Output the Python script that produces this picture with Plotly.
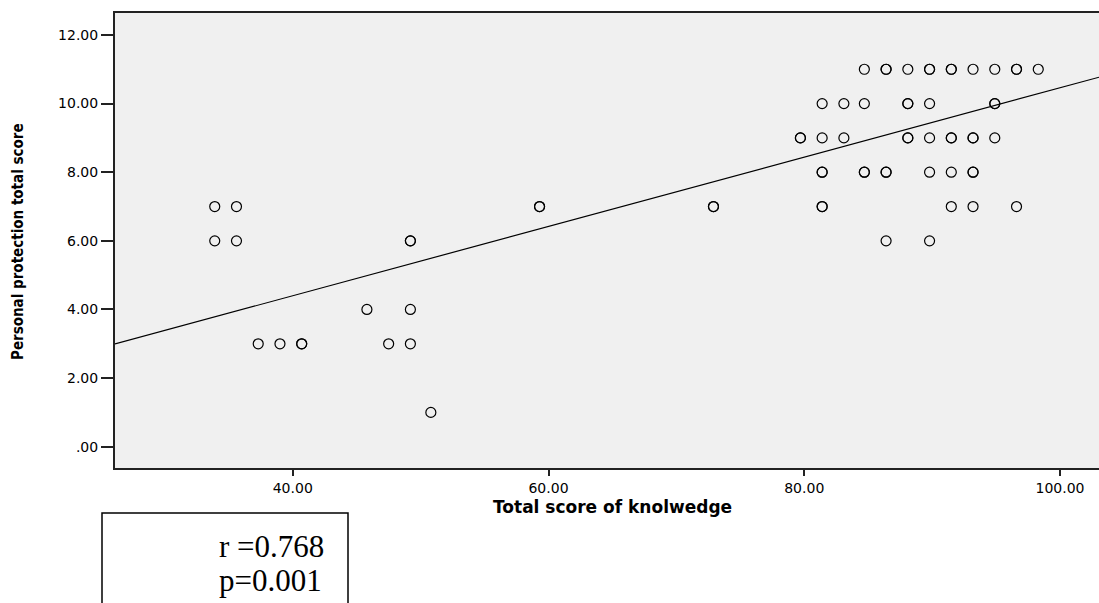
import plotly.graph_objects as go

# ---- data ----
knowledge_score = [
    33.9, 35.6, 33.9, 35.6, 49.2, 49.2, 45.8, 49.2,
    37.3, 39.0, 40.7, 40.7, 47.5, 49.2, 50.8,
    59.3, 59.3, 72.9, 72.9,
    84.7, 86.4, 86.4, 88.1, 89.8, 89.8, 91.5, 91.5, 93.2, 94.9, 96.6, 96.6, 98.3,
    81.4, 83.1, 84.7, 88.1, 88.1, 89.8, 94.9, 94.9,
    79.7, 79.7, 81.4, 83.1, 88.1, 88.1, 89.8, 91.5, 91.5, 93.2, 93.2, 94.9,
    81.4, 81.4, 84.7, 84.7, 86.4, 86.4, 89.8, 91.5, 93.2, 93.2,
    81.4, 81.4, 91.5, 93.2, 96.6,
    86.4, 89.8,
]
protection_score = [
    7, 7, 6, 6, 6, 6, 4, 4,
    3, 3, 3, 3, 3, 3, 1,
    7, 7, 7, 7,
    11, 11, 11, 11, 11, 11, 11, 11, 11, 11, 11, 11, 11,
    10, 10, 10, 10, 10, 10, 10, 10,
    9, 9, 9, 9, 9, 9, 9, 9, 9, 9, 9, 9,
    8, 8, 8, 8, 8, 8, 8, 8, 8, 8,
    7, 7, 7, 7, 7,
    6, 6,
]
fit_slope = 0.101
fit_intercept = 0.36
x_range = [26.1, 103.05]
y_range = [-0.62, 12.64]
x_ticks = [40, 60, 80, 100]
x_tick_labels = ["40.00", "60.00", "80.00", "100.00"]
y_ticks = [0, 2, 4, 6, 8, 10, 12]
y_tick_labels = [".00", "2.00", "4.00", "6.00", "8.00", "10.00", "12.00"]
stats_lines = ["r =0.768", "p=0.001"]

fit_x = x_range
fit_y = [fit_intercept + fit_slope * v for v in fit_x]

fig = go.Figure()
fig.add_trace(go.Scatter(
    x=knowledge_score, y=protection_score, mode="markers",
    marker=dict(symbol="circle-open", size=10, color="#000000",
                line=dict(width=1.2, color="#000000")),
    showlegend=False, hoverinfo="x+y",
))
fig.add_trace(go.Scatter(
    x=fit_x, y=fit_y, mode="lines",
    line=dict(color="#000000", width=1.2),
    showlegend=False, hoverinfo="skip",
))

tick_font = dict(family="DejaVu Sans", size=14, color="#000000")

fig.update_layout(
    width=1099, height=603,
    margin=dict(l=115, r=0, t=13, b=135),
    paper_bgcolor="#ffffff",
    plot_bgcolor="#f0f0f0",
    xaxis=dict(
        range=x_range, tickvals=x_ticks, ticktext=x_tick_labels,
        ticks="outside", ticklen=6, tickwidth=2, tickcolor="#222222",
        showline=True, linewidth=2, linecolor="#222222", mirror=True,
        showgrid=False, zeroline=False, tickfont=tick_font,
    ),
    yaxis=dict(
        range=y_range, tickvals=y_ticks, ticktext=y_tick_labels,
        ticks="outside", ticklen=12, tickwidth=2, tickcolor="#222222",
        showline=True, linewidth=2, linecolor="#222222",
        showgrid=False, zeroline=False, tickfont=tick_font,
    ),
    annotations=[
        dict(text="<b>Total score of knolwedge</b>", xref="paper", yref="paper",
             x=(612 - 115) / 984, y=(468 - 507) / 455, xanchor="center", yanchor="middle",
             showarrow=False, font=dict(family="DejaVu Sans", size=17, color="#000000")),
        dict(text="<b>Personal protection total score</b>", xref="paper", yref="paper",
             x=(18 - 115) / 984, y=(468 - 242) / 455, xanchor="center", yanchor="middle",
             textangle=-90, showarrow=False,
             font=dict(family="DejaVu Sans Condensed", size=15, color="#000000")),
        dict(text=stats_lines[0], xref="paper", yref="paper",
             x=(326 - 115) / 984, y=(468 - 546) / 455, xanchor="right", yanchor="middle",
             showarrow=False, font=dict(family="Liberation Serif", size=31, color="#000000")),
        dict(text=stats_lines[1], xref="paper", yref="paper",
             x=(324 - 115) / 984, y=(468 - 580) / 455, xanchor="right", yanchor="middle",
             showarrow=False, font=dict(family="Liberation Serif", size=31, color="#000000")),
    ],
    shapes=[
        dict(type="rect", xref="paper", yref="paper",
             x0=(102 - 115) / 984, x1=(348 - 115) / 984,
             y0=(468 - 620) / 455, y1=(468 - 513) / 455,
             line=dict(color="#000000", width=1.5), fillcolor="rgba(0,0,0,0)", layer="above"),
    ],
)

fig.write_html(
    "out.html",
    config={"displayModeBar": False},
    post_script="document.body.style.margin='0';document.body.style.overflow='hidden';",
)
